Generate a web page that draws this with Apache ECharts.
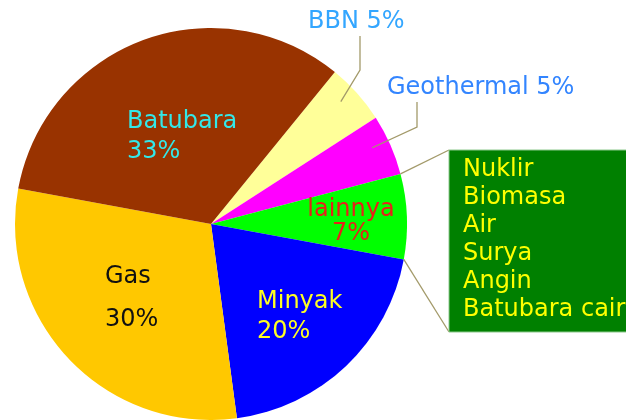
<!DOCTYPE html>
<html>
<head>
<meta charset="utf-8">
<script src="https://cdn.jsdelivr.net/npm/echarts@6/dist/echarts.min.js"></script>
<style>html,body{margin:0;padding:0;background:#fff}#c{width:626px;height:420px}</style>
</head>
<body>
<div id="c"></div>
<script>
// ---- data ----
const categories = ['BBN', 'Geothermal', 'lainnya', 'Minyak', 'Gas', 'Batubara'];
const values = [5, 5, 7, 20, 30, 33];
const otherItems = ['Nuklir', 'Biomasa', 'Air', 'Surya', 'Angin', 'Batubara cair'];

// ---- styles ----
const sliceColors = ['#FFFF99', '#FF00FF', '#00FF00', '#0000FF', '#FFC800', '#993300'];
const labelColors = ['#33A6FF', '#3385FF', '#E8201A', '#FFFF22', '#111111', '#33E8E8'];
const FONT = 'DejaVu Sans';
const CX = 211, CY = 224, R = 196, START = 50.8;
// label placement (annotation layout, not data)
const labelPlace = {
  BBN:        {x: 308, y: 22,  align: 'left', lineX: 360, bendY: 70},
  Geothermal: {x: 387, y: 88,  align: 'left', lineX: 417, bendY: 127},
  lainnya:    {x: 351, y: 222, align: 'center', lh: 24},
  Minyak:     {x: 257, y: 317, align: 'left', lh: 30},
  Gas:        {x: 105, y: 298, align: 'left', lh: 43},
  Batubara:   {x: 127, y: 137, align: 'left', lh: 30}
};
const outsideNames = ['BBN', 'Geothermal'];
const leaderColor = '#A39A6A';

// angle helpers from data
const total = values.reduce((a, b) => a + b, 0);
const bounds = [];
let acc = START;
values.forEach(v => { const s = acc; acc -= v / total * 360; bounds.push([s, acc]); });
function pt(angDeg, r) {
  const a = angDeg * Math.PI / 180;
  return [CX + r * Math.cos(a), CY - r * Math.sin(a)];
}

const chart = echarts.init(document.getElementById('c'), null, {renderer: 'canvas'});

const data = categories.map((c, i) => {
  const pl = labelPlace[c];
  const outside = outsideNames.indexOf(c) >= 0;
  return {
    name: c,
    value: values[i],
    itemStyle: {color: sliceColors[i]},
    label: {
      show: true,
      position: outside ? 'outside' : 'inside',
      formatter: outside ? '{b} {c}%' : '{b}\n{c}%',
      color: labelColors[i],
      fontFamily: FONT,
      fontSize: 24,
      lineHeight: pl.lh || 28,
      align: pl.align
    },
    labelLine: {show: false}
  };
});

// leader lines for outside labels (drawn above the slices)
const leaders = outsideNames.map(name => {
  const i = categories.indexOf(name);
  const pl = labelPlace[name];
  const mid = (bounds[i][0] + bounds[i][1]) / 2;
  const inner = pt(mid + 1.5, R * 0.91);
  return {type: 'polyline', z: 10, silent: true,
    shape: {points: [[pl.lineX, pl.y + 14], [pl.lineX, pl.bendY], inner]},
    style: {stroke: leaderColor, lineWidth: 1.3, fill: null}};
});

const boxIdx = categories.indexOf('lainnya');
const pTop = pt(bounds[boxIdx][0], R);
const pBot = pt(bounds[boxIdx][1], R);
const BOX = {x: 449, y: 150, w: 200, h: 182};

chart.setOption({
  animation: false,
  series: [{
    type: 'pie',
    center: [CX, CY],
    radius: R,
    startAngle: START,
    clockwise: true,
    avoidLabelOverlap: false,
    silent: true,
    data: data,
    labelLayout: function (p) {
      const pl = labelPlace[categories[p.dataIndex]];
      return {x: pl.x, y: pl.y, align: pl.align, verticalAlign: 'middle'};
    }
  }],
  graphic: leaders.concat([
    {type: 'line', silent: true, shape: {x1: pTop[0], y1: pTop[1], x2: BOX.x, y2: BOX.y}, style: {stroke: leaderColor, lineWidth: 1.3}, z: 10},
    {type: 'line', silent: true, shape: {x1: pBot[0], y1: pBot[1], x2: BOX.x, y2: BOX.y + BOX.h}, style: {stroke: leaderColor, lineWidth: 1.3}, z: 10},
    {type: 'rect', silent: true, shape: {x: BOX.x, y: BOX.y, width: BOX.w, height: BOX.h}, style: {fill: '#008000', stroke: '#8CC88C', lineWidth: 1}, z: 10},
    {type: 'text', silent: true, x: 463, y: 156, z: 11,
     style: {text: otherItems.join('\n'), fill: '#FFFF00', font: '24px "' + FONT + '"', lineHeight: 28, verticalAlign: 'top', align: 'left'}}
  ])
});
</script>
</body>
</html>
